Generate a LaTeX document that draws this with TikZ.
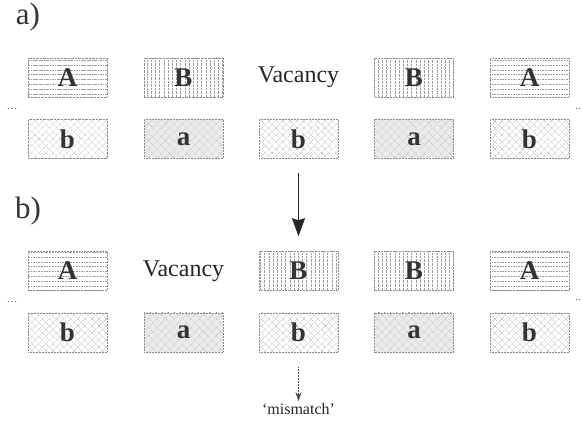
\documentclass[tikz,border=0pt]{standalone}
\usepackage{fontspec}
\setmainfont{Liberation Serif}
\usetikzlibrary{patterns.meta,arrows.meta}
\begin{document}
\begin{tikzpicture}[x=1pt,y=-1pt,
  cell/.style={minimum width=79pt,minimum height=39pt,inner sep=0pt,
    draw=black!45,densely dotted,line width=0.5pt,
    font=\fontsize{27}{27}\selectfont\bfseries,text=black!80},
  hlin/.style={cell,pattern={Lines[angle=0,distance=4.8pt,line width=0.4pt]},pattern color=black!38},
  vlin/.style={cell,pattern={Lines[angle=90,distance=4.2pt,line width=0.4pt]},pattern color=black!38},
  xhatch/.style={cell,pattern={Hatch[angle=45,distance=5pt,line width=0.4pt]},pattern color=black!38},
  grida/.style={cell,fill=black!8,preaction={pattern={Hatch[angle=0,distance=6pt,line width=0.4pt]},pattern color=black!45},
    postaction={pattern={Hatch[angle=45,distance=6pt,line width=0.4pt]},pattern color=black!35}},
  word/.style={font=\fontsize{24}{24}\selectfont,text=black!85,inner sep=0pt},
  lab/.style={font=\fontsize{31}{31}\selectfont,text=black!80,inner sep=0pt},
  dots/.style={font=\fontsize{11}{11}\selectfont,text=black!60,inner sep=0pt}
]
\useasboundingbox (0,0) rectangle (582,425);
% labels
\node[lab] (la) at (28,17) {a)};
\node[lab] (lb) at (28,211) {b)};
% row a
\node[hlin] (a1) at (67.5,77.5) {A};
\node[vlin] (a2) at (183.5,77.5) {B};
\node[word] (a3) at (298.5,77.5) {Vacancy};
\node[vlin] (a4) at (414,77.5) {B};
\node[hlin] (a5) at (529.5,77.5) {A};
\node[xhatch] (c1) at (67.5,139) {b};
\node[grida] (c2) at (183.5,139) {a};
\node[xhatch] (c3) at (298.5,139) {b};
\node[grida] (c4) at (414,139) {a};
\node[xhatch] (c5) at (529.5,139) {b};
\node[dots] (dla) at (12,109) {\dots};
\node[dots,anchor=east] (dra) at (581,109) {..};
% row b
\node[hlin] (b1) at (67.5,271) {A};
\node[word] (b2) at (183.5,271) {Vacancy};
\node[vlin] (b3) at (298.5,271) {B};
\node[vlin] (b4) at (414,271) {B};
\node[hlin] (b5) at (529.5,271) {A};
\node[xhatch] (d1) at (67.5,332.5) {b};
\node[grida] (d2) at (183.5,332.5) {a};
\node[xhatch] (d3) at (298.5,332.5) {b};
\node[grida] (d4) at (414,332.5) {a};
\node[xhatch] (d5) at (529.5,332.5) {b};
\node[dots] (dlb) at (12,302) {\dots};
\node[dots,anchor=east] (drb) at (581,300) {..};
% mismatch
\node[font=\fontsize{16}{16}\selectfont,text=black!85,inner sep=0pt] (mm) at (298.5,409) {‘mismatch’};
% arrows
\draw[line width=1.8pt,black!85,-{Stealth[length=18pt,width=13pt,inset=2pt]},shorten <=14pt,shorten >=15pt] (c3.south) -- (b3.north);
\draw[line width=0.5pt,black!70,densely dotted,-{Stealth[length=9pt,width=6pt]},shorten <=15pt,shorten >=2pt] (d3.south) -- (mm.north);
\end{tikzpicture}
\end{document}
